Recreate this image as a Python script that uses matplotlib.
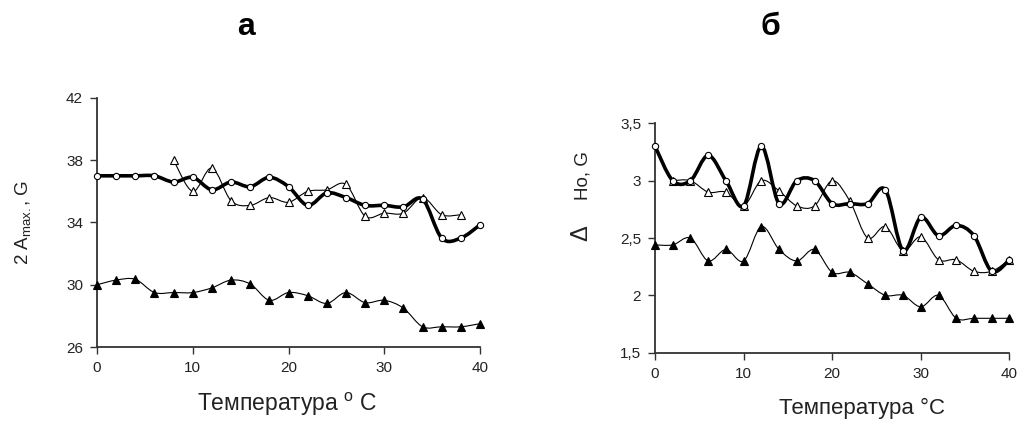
import numpy as np
import matplotlib
matplotlib.use("Agg")
import matplotlib.pyplot as plt
from matplotlib.path import Path
from matplotlib.patches import PathPatch

plt.rcParams['font.family'] = ['Liberation Sans', 'DejaVu Sans']
plt.rcParams['mathtext.fontset'] = 'custom'
plt.rcParams['mathtext.rm'] = 'Liberation Sans'
plt.rcParams['mathtext.it'] = 'Liberation Sans'

# ---------------- data: panel a ----------------
a_circ_x = [0, 2, 4, 6, 8, 10, 12, 14, 16, 18, 20, 22, 24, 26, 28, 30, 32, 34, 36, 38, 40]
a_circ_y = [37.0, 37.0, 37.0, 37.0, 36.6, 36.9, 36.1, 36.6, 36.3, 36.9, 36.3, 35.1, 35.9,
            35.6, 35.1, 35.1, 35.0, 35.5, 33.0, 33.0, 33.85]
a_otri_x = [8, 10, 12, 14, 16, 18, 20, 22, 24, 26, 28, 30, 32, 34, 36, 38]
a_otri_y = [38.0, 36.0, 37.5, 35.4, 35.1, 35.6, 35.3, 36.0, 36.1, 36.45, 34.4, 34.6, 34.6,
            35.6, 34.5, 34.5]
a_ftri_x = [0, 2, 4, 6, 8, 10, 12, 14, 16, 18, 20, 22, 24, 26, 28, 30, 32, 34, 36, 38, 40]
a_ftri_y = [30.0, 30.3, 30.35, 29.5, 29.5, 29.5, 29.8, 30.3, 30.05, 29.0, 29.5, 29.3, 28.8,
            29.5, 28.85, 29.0, 28.5, 27.3, 27.3, 27.3, 27.5]
a_yticks = [26, 30, 34, 38, 42]
a_xticks = [0, 10, 20, 30, 40]

# ---------------- data: panel b ----------------
b_circ_x = [0, 2, 4, 6, 8, 10, 12, 14, 16, 18, 20, 22, 24, 26, 28, 30, 32, 34, 36, 38, 40]
b_circ_y = [3.3, 3.0, 3.0, 3.22, 3.0, 2.78, 3.3, 2.8, 3.0, 3.0, 2.8, 2.8, 2.8, 2.92, 2.39,
            2.68, 2.52, 2.61, 2.52, 2.21, 2.31]
b_otri_x = [2, 4, 6, 8, 10, 12, 14, 16, 18, 20, 22, 24, 26, 28, 30, 32, 34, 36, 38, 40]
b_otri_y = [3.0, 3.0, 2.9, 2.9, 2.78, 3.0, 2.91, 2.78, 2.78, 3.0, 2.82, 2.5, 2.6, 2.39,
            2.51, 2.31, 2.31, 2.21, 2.21, 2.31]
b_ftri_x = [0, 2, 4, 6, 8, 10, 12, 14, 16, 18, 20, 22, 24, 26, 28, 30, 32, 34, 36, 38, 40]
b_ftri_y = [2.44, 2.44, 2.5, 2.3, 2.4, 2.3, 2.6, 2.4, 2.3, 2.4, 2.2, 2.2, 2.1, 2.0, 2.0,
            1.9, 2.0, 1.8, 1.8, 1.8, 1.8]
b_yticks = [1.5, 2, 2.5, 3, 3.5]
b_ytick_labels = ["1,5", "2", "2,5", "3", "3,5"]
b_xticks = [0, 10, 20, 30, 40]


def smooth_path(xs, ys):
    """Cubic Bezier smoothing through the data points (Excel-like)."""
    pts = np.column_stack([xs, ys]).astype(float)
    n = len(pts)
    verts = [pts[0]]
    codes = [Path.MOVETO]
    for i in range(n - 1):
        p0 = pts[i - 1] if i > 0 else pts[i]
        p1 = pts[i]
        p2 = pts[i + 1]
        p3 = pts[i + 2] if i + 2 < n else pts[i + 1]
        c1 = p1 + (p2 - p0) / 6.0
        c2 = p2 - (p3 - p1) / 6.0
        verts += [c1, c2, p2]
        codes += [Path.CURVE4] * 3
    return Path(verts, codes)


def draw_series(ax, xs, ys, lw, marker, ms, mfc, z):
    ax.add_patch(PathPatch(smooth_path(xs, ys), fill=False, edgecolor='black',
                           lw=lw, zorder=z, capstyle='round', joinstyle='round'))
    ax.plot(xs, ys, linestyle='none', marker=marker, ms=ms, mfc=mfc, mec='black',
            mew=0.8, zorder=z + 0.5, clip_on=False)


fig = plt.figure(figsize=(10.2, 4.22), dpi=100)
axL = fig.add_axes([0.0951, 0.1777, 0.3755, 0.5901])
axR = fig.add_axes([0.6422, 0.1642, 0.3474, 0.5436])

spine_c = '#333333'
for ax in (axL, axR):
    for s in ('top', 'right'):
        ax.spines[s].set_visible(False)
    for s in ('left', 'bottom'):
        ax.spines[s].set_color(spine_c)
        ax.spines[s].set_linewidth(1.3)
    ax.tick_params(axis='both', direction='out', length=5, width=1.0, color=spine_c,
                   labelsize=11, labelcolor='#222222', pad=5)
    ax.set_facecolor('none')

# panel a
draw_series(axL, a_otri_x, a_otri_y, 0.8, '^', 6, 'white', 3)
draw_series(axL, a_circ_x, a_circ_y, 2.6, 'o', 4.5, 'white', 4)
draw_series(axL, a_ftri_x, a_ftri_y, 0.8, '^', 6, 'black', 3)
axL.set_xlim(0, 40)
axL.set_ylim(26, 42)
axL.set_xticks(a_xticks)
axL.set_yticks(a_yticks)

# panel b
draw_series(axR, b_otri_x, b_otri_y, 0.8, '^', 6, 'white', 3)
draw_series(axR, b_circ_x, b_circ_y, 2.6, 'o', 4.5, 'white', 4)
draw_series(axR, b_ftri_x, b_ftri_y, 0.8, '^', 6, 'black', 3)
axR.set_xlim(0, 40)
axR.set_ylim(1.5, 3.5)
axR.set_xticks(b_xticks)
axR.set_yticks(b_yticks)
axR.set_yticklabels(b_ytick_labels)

# titles
fig.text(246 / 1020, 1 - 27 / 422, "а", ha='center', va='center', fontsize=23,
         fontweight='bold')
fig.text(770 / 1020, 1 - 27 / 422, "б", ha='center', va='center', fontsize=23,
         fontweight='bold')

# x labels
fig.text(287 / 1020, 1 - 404 / 422, "Температура $^{\\mathrm{o}}$ C", ha='center',
         va='center', fontsize=16.5, color='#222222')
fig.text(862 / 1020, 1 - 408 / 422, "Температура °C", ha='center', va='center',
         fontsize=16, color='#222222')

# y labels
fig.text(23 / 1020, 1 - 222 / 422, "2 A$_{\\mathrm{max.}}$, G", ha='center', va='center',
         rotation=90, fontsize=13.5, color='#222222')
fig.text(582 / 1020, 1 - 233 / 422, "$\\Delta$", ha='center', va='center',
         rotation=90, fontsize=17, color='#222222')
fig.text(583 / 1020, 1 - 176 / 422, "Ho, G", ha='center', va='center',
         rotation=90, fontsize=13.5, color='#222222')

fig.savefig("out.png", dpi=100)
